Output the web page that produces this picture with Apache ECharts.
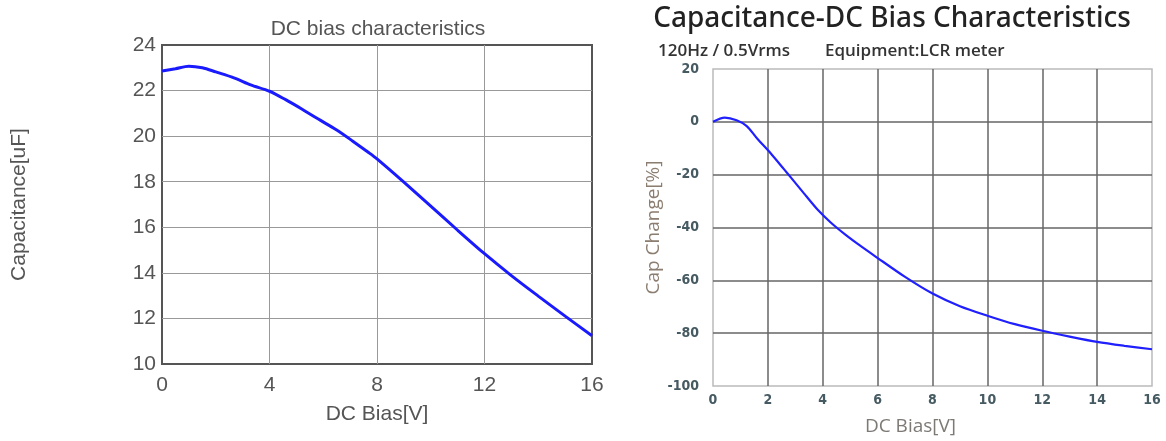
<!DOCTYPE html>
<html><head><meta charset="utf-8">
<script src="https://cdn.jsdelivr.net/npm/echarts@6/dist/echarts.min.js"></script>
<style>html,body{margin:0;padding:0;background:#fff}#c{width:1166px;height:441px}</style>
</head><body><div id="c"></div>
<script>
// Left chart: DC bias characteristics (capacitance, uF)
const leftBias = [0, 0.5, 1, 1.5, 2, 2.7, 3.3, 4, 4.6, 5.2, 5.8, 6.5, 7.1, 7.7, 8, 9, 10, 11, 12, 13, 14, 15, 16];
const leftCap  = [22.86, 22.96, 23.07, 23.0, 22.82, 22.55, 22.25, 21.97, 21.6, 21.19, 20.76, 20.27, 19.78, 19.27, 19.0, 17.98, 16.93, 15.87, 14.84, 13.88, 12.98, 12.1, 11.24];
// Right chart: Capacitance change (%)
const rightBias   = [0, 0.43, 0.86, 1.23, 1.6, 2.1, 2.6, 2.85, 3.3, 3.8, 4.3, 4.8, 5.3, 5.9, 7, 8, 9, 10, 11, 12, 13, 14, 15, 16];
const rightChange = [0.0, 1.6, 0.6, -1.6, -6.2, -11.9, -18.1, -21.2, -26.9, -33.1, -38.2, -42.5, -46.4, -50.8, -58.7, -65, -69.8, -73.4, -76.6, -79.1, -81.3, -83.3, -84.8, -86.1];

const leftTitle = 'DC bias characteristics';
const rightTitle = 'Capacitance-DC Bias Characteristics';
const rightSub1 = '120Hz / 0.5Vrms';
const rightSub2 = 'Equipment:LCR meter';

const zip = (a, b) => a.map((v, i) => [v, b[i]]);
const chart = echarts.init(document.getElementById('c'));
const arial = 'Liberation Sans, Arial, sans-serif';
const open = 'Open Sans, Noto Sans, sans-serif';
const noto = 'Noto Sans, Open Sans, sans-serif';
const cond = 'DejaVu Sans Condensed, DejaVu Sans, sans-serif';

chart.setOption({
  animation: false,
  backgroundColor: '#fff',
  title: [
    { text: leftTitle, left: 373, top: 14, textAlign: 'center',
      textStyle: { fontFamily: arial, fontSize: 21, fontWeight: 'normal', color: '#555' } },
    { text: rightTitle, left: 887, top: 0, textAlign: 'center',
      textStyle: { fontFamily: noto, fontSize: 28, fontWeight: 500, color: '#222' } },
    { text: rightSub1, left: 653, top: 38,
      textStyle: { fontFamily: open, fontSize: 17, fontWeight: 600, color: '#333' } },
    { text: rightSub2, left: 820, top: 38,
      textStyle: { fontFamily: open, fontSize: 17, fontWeight: 600, color: '#333' } }
  ],
  grid: [
    { left: 162, right: 574, top: 45, bottom: 77, show: true, borderColor: '#555', borderWidth: 2 },
    { left: 713, right: 14, top: 69, bottom: 55, show: true, borderColor: '#bbb', borderWidth: 1.5 }
  ],
  xAxis: [
    { type: 'value', gridIndex: 0, min: 0, max: 16, interval: 4,
      name: 'DC Bias[V]', nameLocation: 'middle', nameGap: 40,
      nameTextStyle: { fontFamily: arial, fontSize: 21, color: '#555' },
      axisLine: { show: false }, axisTick: { show: false },
      axisLabel: { fontFamily: arial, fontSize: 21, color: '#555', margin: 11 },
      splitLine: { show: true, showMinLine: false, showMaxLine: false, lineStyle: { color: '#999', width: 1 } } },
    { type: 'value', gridIndex: 1, min: 0, max: 16, interval: 2,
      name: 'DC Bias[V]', nameLocation: 'middle', nameGap: 31,
      nameTextStyle: { fontFamily: open, fontSize: 19, color: '#7d7a76', padding: [0, 44, 0, 0] },
      axisLine: { show: false }, axisTick: { show: false },
      axisLabel: { fontFamily: cond, fontSize: 14, fontWeight: 'bold', color: '#465a62', margin: 7 },
      splitLine: { show: true, showMinLine: false, showMaxLine: false, lineStyle: { color: '#666', width: 1.5 } } }
  ],
  yAxis: [
    { type: 'value', gridIndex: 0, min: 10, max: 24, interval: 2,
      name: 'Capacitance[uF]', nameLocation: 'middle', nameGap: 132, nameRotate: 90,
      nameTextStyle: { fontFamily: arial, fontSize: 21, color: '#555' },
      axisLine: { show: false }, axisTick: { show: false },
      axisLabel: { fontFamily: arial, fontSize: 21, color: '#555', margin: 6, padding: [10, 0, 0, 0] },
      splitLine: { show: true, showMinLine: false, showMaxLine: false, lineStyle: { color: '#999', width: 1 } } },
    { type: 'value', gridIndex: 1, min: -100, max: 20, interval: 20,
      name: 'Cap Change[%]', nameLocation: 'middle', nameGap: 46, nameRotate: 90,
      nameTextStyle: { fontFamily: open, fontSize: 19, color: '#8b7d70' },
      axisLine: { show: false }, axisTick: { show: false },
      axisLabel: { fontFamily: cond, fontSize: 14, fontWeight: 'bold', color: '#465a62', margin: 14, padding: [8, 0, 0, 0] },
      splitLine: { show: true, showMinLine: false, showMaxLine: false, lineStyle: { color: '#666', width: 1.5 } } }
  ],
  series: [
    { type: 'line', xAxisIndex: 0, yAxisIndex: 0, data: zip(leftBias, leftCap), smooth: 0.3,
      showSymbol: false, lineStyle: { color: '#1a1aff', width: 3 } },
    { type: 'line', xAxisIndex: 1, yAxisIndex: 1, data: zip(rightBias, rightChange), smooth: 0.3,
      showSymbol: false, lineStyle: { color: '#2020ff', width: 2.2 } }
  ]
});
</script></body></html>
